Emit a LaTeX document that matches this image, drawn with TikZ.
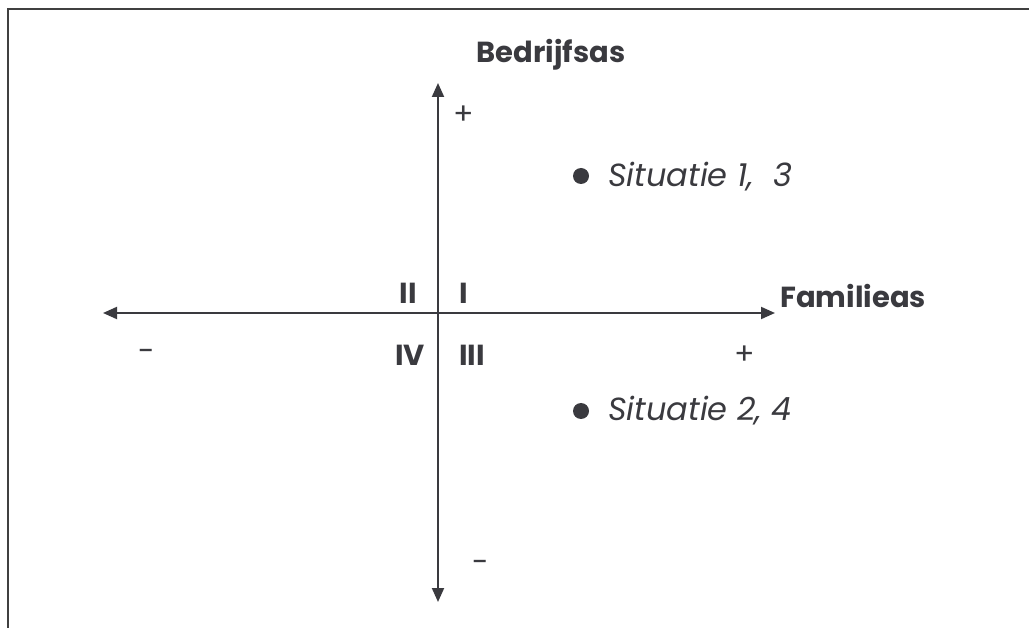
\documentclass[tikz,border=0pt]{standalone}
\usepackage{fontspec}
\setmainfont{Poppins}
\usetikzlibrary{arrows.meta}
\definecolor{ink}{HTML}{3A3A3F}
\definecolor{frame}{HTML}{404040}
\tikzset{
  axis/.style={draw=ink, line width=2pt, {Triangle[length=14pt,width=12pt]}-{Triangle[length=14pt,width=12pt]}},
  lbl/.style={text=ink, inner sep=0pt, font=\fontsize{30}{34}\selectfont},
  bold/.style={lbl, font=\fontsize{29}{33}\selectfont\bfseries},
  sit/.style={lbl, font=\fontsize{32}{36}\selectfont\itshape},
  dot/.style={circle, fill=ink, inner sep=0pt, minimum size=16pt}
}
\begin{document}
\begin{tikzpicture}[x=1pt,y=-1pt]
\useasboundingbox (0,0) rectangle (1029,628);
\draw[frame, line width=2pt] (8,628) -- (8,9) -- (1029,9);
\coordinate (top) at (438,83);
\coordinate (bot) at (438,602);
\coordinate (left) at (103,313);
\coordinate (right) at (775,313);
\draw[axis] (bot) -- (top);
\draw[axis] (left) -- (right);
\node[bold] (by) at (551,55) {Bedrijfsas};
\node[bold, anchor=west] (fx) at (780,296) {Familieas};
\node[lbl] (yp) at (464,115) {+};
\node[lbl] (ym) at (481,566) {-};
\node[lbl] (xm) at (147,355) {-};
\node[lbl] (xp) at (745,355) {+};
\node[bold] (q2) at (408,293) {II};
\node[bold] (q1) at (464,293) {I};
\node[bold] (q4) at (410,355) {IV};
\node[bold] (q3) at (472,355) {III};
\node[dot] (d1) at (581,176) {};
\node[sit, anchor=west] (s1) at (608,177) {Situatie 1,\ \ 3};
\node[dot] (d2) at (581,411) {};
\node[sit, anchor=west] (s2) at (608,411) {Situatie 2, 4};
\end{tikzpicture}
\end{document}
